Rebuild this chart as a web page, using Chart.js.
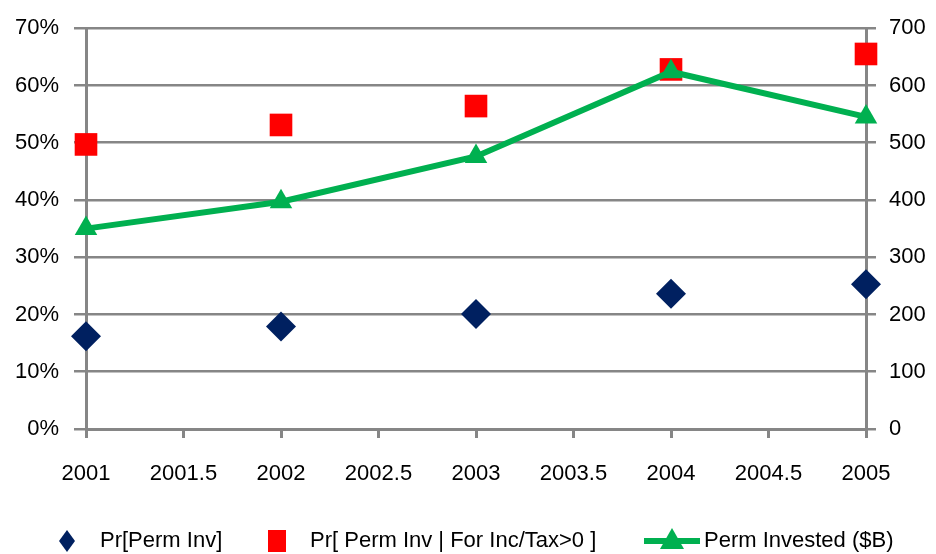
<!DOCTYPE html>
<html>
<head>
<meta charset="utf-8">
<script src="https://cdn.jsdelivr.net/npm/chart.js@4.4.1/dist/chart.umd.min.js"></script>
<style>
  html, body { margin: 0; padding: 0; background: #fff; }
  #wrap { width: 936px; height: 554px; }
</style>
</head>
<body>
<div id="wrap"><canvas id="chart" width="936" height="554"></canvas></div>
<script>
const years = [2001, 2002, 2003, 2004, 2005];
const prPermInv = [16.2, 17.9, 20.1, 23.6, 25.3];          // %
const prPermInvForInc = [49.7, 53.1, 56.4, 62.8, 65.5];    // %
const permInvested = [350, 397, 476, 624, 545];            // $B
const xTickLabels = ['2001', '2001.5', '2002', '2002.5', '2003', '2003.5', '2004', '2004.5', '2005'];
const leftTickLabels = ['0%', '10%', '20%', '30%', '40%', '50%', '60%', '70%'];
const rightTickLabels = ['0', '100', '200', '300', '400', '500', '600', '700'];
const seriesNames = ['Pr[Perm Inv]', 'Pr[ Perm Inv | For Inc/Tax>0 ]', 'Perm Invested ($B)'];

const NAVY = '#002060';
const RED = '#ff0000';
const GREEN = '#00b050';
const GRAY = '#868686';
const FONT = "'Liberation Sans', Arial, sans-serif";

const toPoints = (vals) => vals.map((v, i) => ({ x: years[i], y: v }));

// legend drawn by hand so the line+triangle icon looks like the original
const bottomLegend = {
  id: 'bottomLegend',
  afterDraw(chart) {
    const ctx = chart.ctx;
    const y = 541;
    ctx.save();
    ctx.font = '22px ' + FONT;
    ctx.textBaseline = 'middle';

    // diamond
    ctx.fillStyle = NAVY;
    ctx.beginPath();
    ctx.moveTo(67, y - 11);
    ctx.lineTo(75, y);
    ctx.lineTo(67, y + 11);
    ctx.lineTo(59, y);
    ctx.closePath();
    ctx.fill();
    ctx.fillStyle = '#000';
    ctx.fillText(seriesNames[0], 100, y);

    // square
    ctx.fillStyle = RED;
    ctx.fillRect(268, y - 11, 18, 22);
    ctx.fillStyle = '#000';
    ctx.fillText(seriesNames[1], 310, y);

    // line + triangle
    ctx.strokeStyle = GREEN;
    ctx.lineWidth = 6;
    ctx.beginPath();
    ctx.moveTo(644, y);
    ctx.lineTo(700, y);
    ctx.stroke();
    ctx.fillStyle = GREEN;
    ctx.beginPath();
    ctx.moveTo(672, y - 13);
    ctx.lineTo(684, y + 8);
    ctx.lineTo(660, y + 8);
    ctx.closePath();
    ctx.fill();
    ctx.fillStyle = '#000';
    ctx.fillText(seriesNames[2], 704, y);
    ctx.restore();
  }
};

new Chart(document.getElementById('chart'), {
  type: 'scatter',
  data: {
    datasets: [
      {
        label: seriesNames[2],
        type: 'line',
        data: toPoints(permInvested),
        yAxisID: 'y1',
        borderColor: GREEN,
        backgroundColor: GREEN,
        borderWidth: 6,
        pointStyle: 'triangle',
        pointRadius: 13,
        pointBorderWidth: 0,
        tension: 0,
        clip: false,
        order: 0
      },
      {
        label: seriesNames[1],
        data: toPoints(prPermInvForInc),
        yAxisID: 'y',
        backgroundColor: RED,
        borderColor: RED,
        pointStyle: 'rect',
        pointRadius: 16,
        pointBorderWidth: 0,
        clip: false,
        order: 1
      },
      {
        label: seriesNames[0],
        data: toPoints(prPermInv),
        yAxisID: 'y',
        backgroundColor: NAVY,
        borderColor: NAVY,
        pointStyle: 'rectRot',
        pointRadius: 15,
        pointBorderWidth: 0,
        clip: false,
        order: 2
      }
    ]
  },
  options: {
    responsive: false,
    animation: false,
    layout: { padding: { top: 23, left: 0, right: 0, bottom: 0 } },
    plugins: {
      legend: { display: false },
      tooltip: { enabled: false }
    },
    scales: {
      x: {
        type: 'linear',
        min: 2001,
        max: 2005,
        afterFit: (s) => { s.height = 125; },
        ticks: {
          stepSize: 0.5,
          padding: 23,
          color: '#000',
          font: { family: FONT, size: 22 },
          callback: (v, i) => xTickLabels[i]
        },
        grid: { drawOnChartArea: false, drawTicks: true, tickLength: 9, color: GRAY, lineWidth: 3 },
        border: { display: true, color: GRAY, width: 3 }
      },
      y: {
        position: 'left',
        min: 0,
        max: 70,
        afterFit: (s) => { s.width = 86; },
        ticks: {
          stepSize: 10,
          padding: 15,
          color: '#000',
          font: { family: FONT, size: 22 },
          callback: (v, i) => leftTickLabels[i]
        },
        grid: { color: GRAY, lineWidth: 2.5, tickLength: 12 },
        border: { display: true, color: GRAY, width: 3 }
      },
      y1: {
        position: 'right',
        min: 0,
        max: 700,
        afterFit: (s) => { s.width = 70; },
        ticks: {
          stepSize: 100,
          padding: 13,
          color: '#000',
          font: { family: FONT, size: 22 },
          callback: (v, i) => rightTickLabels[i]
        },
        grid: { drawOnChartArea: false, color: GRAY, lineWidth: 2.5, tickLength: 10 },
        border: { display: true, color: GRAY, width: 3 }
      }
    }
  },
  plugins: [bottomLegend]
});
</script>
</body>
</html>
